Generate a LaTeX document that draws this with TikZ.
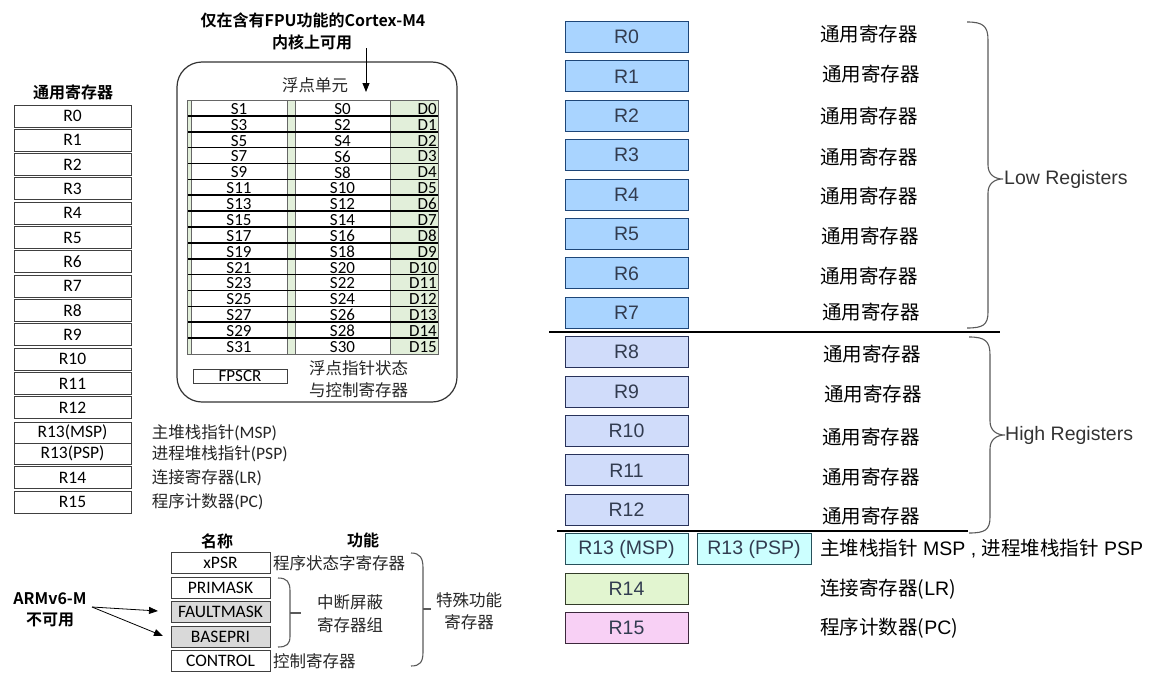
\documentclass[tikz,border=0pt]{standalone}
\usepackage{fontspec}
\setmainfont{Carlito}
\newfontfamily\zh{Noto Sans CJK SC}[BoldFont={Noto Sans CJK SC Bold}]
\newfontfamily\ar{Liberation Sans}
\usetikzlibrary{arrows.meta}
\newcommand\myfs[1]{\fontsize{#1pt}{#1pt}\selectfont}
\definecolor{fpgreen}{RGB}{226,239,218}
\definecolor{shade}{RGB}{217,217,217}
\definecolor{rblue}{RGB}{169,212,255}
\definecolor{rblueb}{RGB}{30,70,120}
\definecolor{rlav}{RGB}{208,220,250}
\definecolor{rlavb}{RGB}{40,50,90}
\definecolor{rcyan}{RGB}{204,255,255}
\definecolor{rcyanb}{RGB}{40,80,90}
\definecolor{rgreen}{RGB}{226,245,208}
\definecolor{rgreenb}{RGB}{50,60,40}
\definecolor{rpink}{RGB}{248,208,245}
\definecolor{rpinkb}{RGB}{60,40,60}
\definecolor{rtext}{RGB}{50,60,80}
\begin{document}
\begin{tikzpicture}[x=1pt,y=-1pt,
  lreg/.style={draw=black!75, line width=1pt, minimum width=117pt, minimum height=22pt, inner sep=0pt, font=\myfs{17.5}},
  ltxt/.style={inner sep=0pt, anchor=west, font=\myfs{17.5}, text=black!85},
  tcell/.style={inner sep=0pt, font=\myfs{17}},
  breg/.style={draw=black!75, line width=1pt, minimum width=99pt, minimum height=21pt, inner sep=0pt, font=\myfs{17.5}},
  ztxt/.style={inner sep=0pt, font={\zh\myfs{16.5}}, text=black!85},
  btitle/.style={inner sep=0pt, font={\zh\bfseries\myfs{16}}},
  rbox/.style={line width=1pt, minimum width=123pt, minimum height=31pt, inner sep=0pt, font={\ar\myfs{19.5}}, text=rtext},
  rlab/.style={inner sep=0pt, anchor=west, font={\zh\myfs{19.5}}},
  brc/.style={draw=black!65, line width=1.1pt},
  arr/.style={line width=0.8pt, -{Triangle[length=9pt,width=7pt]}}
]
\useasboundingbox (0,0) rectangle (1162,688);

% ---------- left general registers ----------
\node[btitle] (ttl) at (73,92) {通用寄存器};
\foreach \i in {0,...,12} \node[lreg] (L\i) at (72.5,{116+24.33*\i}) {R\i};
\node[lreg, minimum height=21pt] (L13a) at (72.5,432.5) {R13(MSP)};
\node[lreg, minimum height=21pt] (L13b) at (72.5,453.5) {R13(PSP)};
\node[lreg] (L14) at (72.5,477.5) {R14};
\node[lreg] (L15) at (72.5,502) {R15};
\node[ltxt] (dmsp) at (148,433) {{\zh\myfs{16.5} 主堆栈指针}(MSP)};
\node[ltxt] (dpsp) at (148,454) {{\zh\myfs{16.5} 进程堆栈指针}(PSP)};
\node[ltxt] (dlr) at (148,478) {{\zh\myfs{16.5} 连接寄存器}(LR)};
\node[ltxt] (dpc) at (148,502) {{\zh\myfs{16.5} 程序计数器}(PC)};

% ---------- FPU ----------
\node[btitle] (fput1) at (313,20) {仅在含有FPU功能的Cortex-M4};
\node[btitle] (fput2) at (312,42) {内核上可用};
\node[draw=black!80, line width=1.2pt, rounded corners=25pt, minimum width=280pt, minimum height=340pt, inner sep=0pt] (fpu) at (317,232) {};
\node[ztxt] (fpuname) at (315,85) {浮点单元};
\coordinate (fa1) at (366,48);
\coordinate (fa2) at (366,92);
\draw[arr] (fa1) -- (fa2);

\fill[fpgreen] (187,100) rectangle (438,354);
\foreach \i in {0,...,15} {
  \pgfmathsetmacro\ya{100+15.875*\i}
  \pgfmathsetmacro\yb{\ya+15.875}
  \pgfmathtruncatemacro\so{2*\i+1}
  \pgfmathtruncatemacro\se{2*\i}
  \draw[draw=black!60, fill=white] (191,\ya) rectangle (287,\yb);
  \draw[draw=black!60, fill=white] (295,\ya) rectangle (390,\yb);
  \node[tcell] (s\so) at (239,{\ya+8.8}) {S\so};
  \node[tcell] (s\se) at (342.5,{\ya+8.8}) {S\se};
  \node[tcell, anchor=east] (d\i) at (437,{\ya+8.8}) {D\i};
}
\foreach \i in {1,...,15} \draw[line width=1.6pt] (187,{100+15.875*\i}) -- (438,{100+15.875*\i});
\draw[black!60] (187,100) rectangle (438,354);
\node[draw=black!75, line width=1pt, minimum width=94pt, minimum height=14pt, inner sep=0pt, font=\myfs{17}] (fpscr) at (240,376) {FPSCR};
\node[ztxt, anchor=west] (fpsd1) at (309,368) {浮点指针状态};
\node[ztxt, anchor=west] (fpsd2) at (309,390) {与控制寄存器};

% ---------- special registers ----------
\node[btitle] (hname) at (217,541) {名称};
\node[btitle] (hfunc) at (363,540) {功能};
\node[breg] (xpsr) at (220.5,562.5) {xPSR};
\node[breg] (prim) at (220.5,587.5) {PRIMASK};
\node[breg, fill=shade] (fault) at (220.5,612) {FAULTMASK};
\node[breg, fill=shade] (basep) at (220.5,636.5) {BASEPRI};
\node[breg] (ctrl) at (220.5,660.5) {CONTROL};
\node[ztxt, anchor=west] (dxpsr) at (273,563) {程序状态字寄存器};
\node[ztxt, anchor=west] (dctrl) at (273,661) {控制寄存器};
\node[ztxt] (dint1) at (350,602) {中断屏蔽};
\node[ztxt] (dint2) at (350,625) {寄存器组};
\node[ztxt] (dsp1) at (469,600) {特殊功能};
\node[ztxt] (dsp2) at (469,622) {寄存器};
\draw[brc] (278,578) .. controls (287,578) and (290,582) .. (290,591) -- (290,636) .. controls (290,644) and (287,647) .. (278,647);
\draw[brc] (290,613) -- (301,613);
\draw[brc] (411,553) .. controls (420,553) and (423,558) .. (423,568) -- (423,652) .. controls (423,662) and (420,666) .. (411,666);
\draw[brc] (423,609) -- (431,609);

\node[btitle] (arm1) at (50,599) {ARMv6-M};
\node[btitle] (arm2) at (50,620) {不可用};
\coordinate (asrc) at (92,607);
\coordinate (at1) at (158,611);
\coordinate (at2) at (163,636);
\draw[arr] (asrc) -- (at1);
\draw[arr] (asrc) -- (at2);

% ---------- right side ----------
\foreach \i in {0,...,7} \node[rbox, fill=rblue, draw=rblueb] (r\i) at (626.5,{37+39.4*\i}) {R\i};
\foreach \i in {8,...,12} \node[rbox, fill=rlav, draw=rlavb] (r\i) at (626.5,{37+39.4*\i}) {R\i};
\node[rbox, fill=rcyan, draw=rcyanb] (r13a) at (626.5,549.2) {R13 (MSP)};
\node[rbox, fill=rcyan, draw=rcyanb, minimum width=114pt] (r13b) at (754,549.2) {R13 (PSP)};
\node[rbox, fill=rgreen, draw=rgreenb] (r14) at (626.5,588.6) {R14};
\node[rbox, fill=rpink, draw=rpinkb] (r15) at (626.5,628) {R15};

\foreach \i/\xx/\yy in {0/820/34, 1/822/74, 2/820/116, 3/820/157, 4/820/196, 5/821/236, 6/820/276, 7/822/312, 8/823/354, 9/824/394, 10/822/437, 11/822/477, 12/822/516}
  \node[rlab] (g\i) at (\xx,\yy) {通用寄存器};
\node[rlab] (g13) at (820,549) {主堆栈指针{\ar\ MSP , }进程堆栈指针{\ar\ PSP}};
\node[rlab] (g14) at (820,589) {连接寄存器({\ar LR})};
\node[rlab] (g15) at (820,628) {程序计数器({\ar PC})};

\coordinate (ln1a) at (549,332); \coordinate (ln1b) at (1000,332);
\coordinate (ln2a) at (557,531); \coordinate (ln2b) at (968,531);
\draw[line width=1.2pt] (ln1a) -- (ln1b);
\draw[line width=1.2pt] (ln2a) -- (ln2b);

\draw[brc] (967,22) .. controls (983,22) and (988,26) .. (988,40) -- (988,165) .. controls (988,174) and (994,179) .. (1003,179) .. controls (994,179) and (988,184) .. (988,193) -- (988,312) .. controls (988,325) and (983,328) .. (967,328);
\draw[brc] (969,337) .. controls (985,337) and (990,341) .. (990,355) -- (990,421) .. controls (990,430) and (996,435) .. (1005,435) .. controls (996,435) and (990,440) .. (990,449) -- (990,517) .. controls (990,530) and (985,533) .. (969,533);
\node[inner sep=0pt, anchor=west, font={\ar\myfs{19.5}}, text=black!80] (lowr) at (1004,179) {Low Registers};
\node[inner sep=0pt, anchor=west, font={\ar\myfs{19.5}}, text=black!80] (highr) at (1005,435) {High Registers};
\end{tikzpicture}
\end{document}
